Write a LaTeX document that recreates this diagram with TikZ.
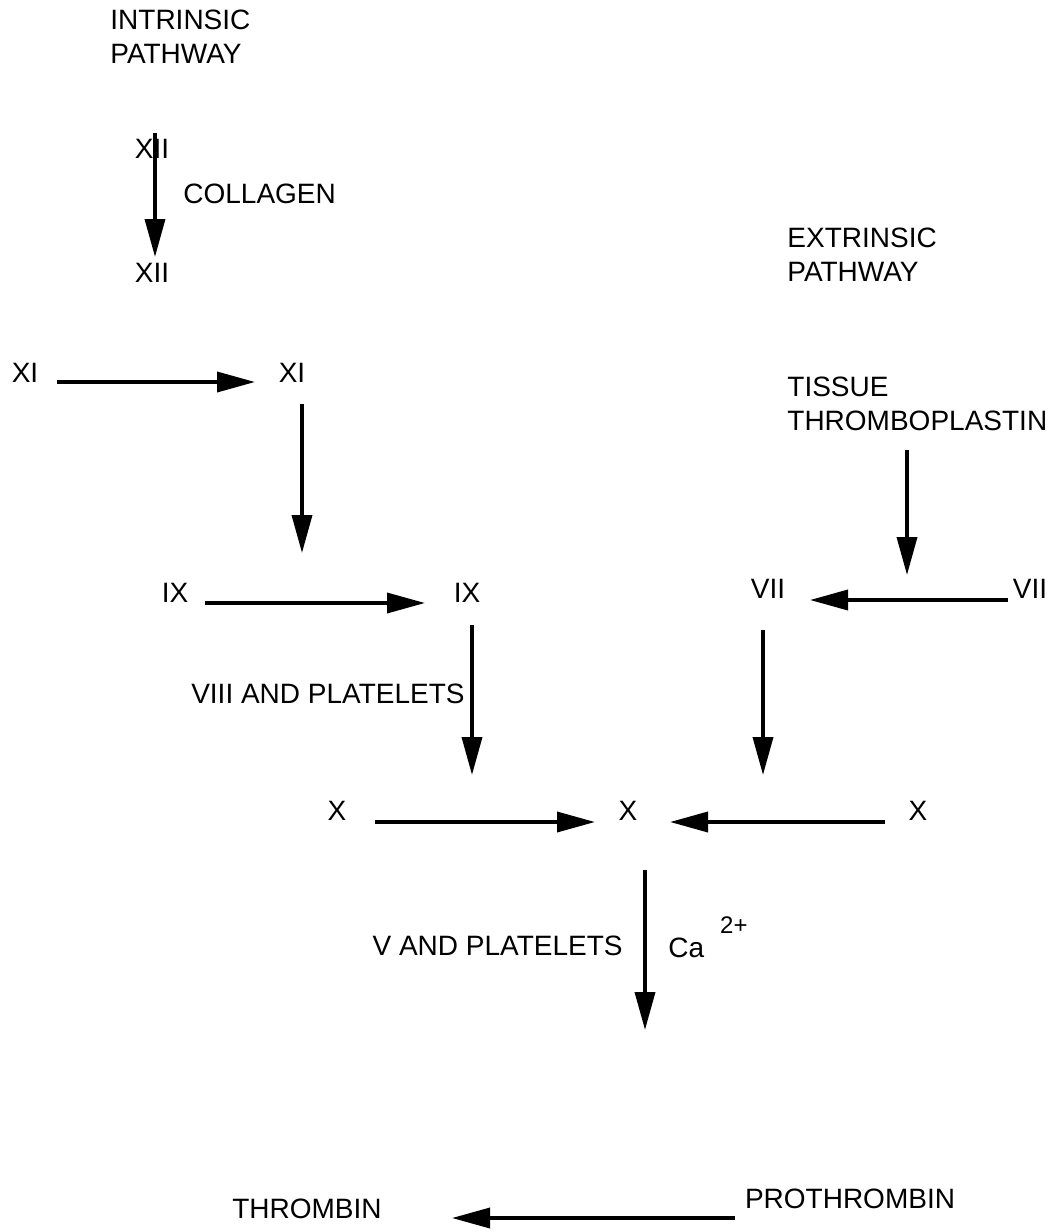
\documentclass[tikz,border=0pt]{standalone}
\usepackage{fontspec}
\setmainfont{Liberation Sans}
\usetikzlibrary{arrows.meta,calc}
\begin{document}
\begin{tikzpicture}[x=0.5pt, y=-0.5pt,
    lbl/.style={inner sep=0pt, font=\fontsize{14}{17}\selectfont},
    arr/.style={line width=1.8pt, -{Triangle[length=19pt,width=10pt]}}]
  \useasboundingbox (0,0) rectangle (1057,1232);

  % Pathway headings
  \node[lbl, anchor=north west, align=left] (intr) at (110,10) {INTRINSIC\\PATHWAY};
  \node[lbl, anchor=north west, align=left] (extr) at (787,228) {EXTRINSIC\\PATHWAY};
  \node[lbl, anchor=north west, align=left] (tissue) at (787,377) {TISSUE\\THROMBOPLASTIN};

  % Factors
  \node[lbl, anchor=base] (xiiTop) at (152,158) {XII};
  \node[lbl, anchor=base] (xiiBot) at (152,282) {XII};
  \node[lbl, anchor=base west] (collagen) at (183,203) {COLLAGEN};
  \node[lbl, anchor=base] (xiIn) at (25,382) {XI};
  \node[lbl, anchor=base] (xiOut) at (292,382) {XI};
  \node[lbl, anchor=base] (ixIn) at (175,602) {IX};
  \node[lbl, anchor=base] (ixOut) at (467,602) {IX};
  \node[lbl, anchor=base] (viiOut) at (768,598) {VII};
  \node[lbl, anchor=base] (viiIn) at (1030,598) {VII};
  \node[lbl, anchor=base east] (viii) at (465,703) {VIII AND PLATELETS};
  \node[lbl, anchor=base] (xInL) at (337,820) {X};
  \node[lbl, anchor=base] (xOut) at (628,820) {X};
  \node[lbl, anchor=base] (xInR) at (918,820) {X};
  \node[lbl, anchor=base east] (vplat) at (623,955) {V AND PLATELETS};
  \node[lbl, anchor=base west] (ca) at (668,957)
    {Ca\hspace{8pt}\raisebox{12pt}{\fontsize{12}{14}\selectfont 2+}};
  \node[lbl, anchor=base] (thrombin) at (307,1218) {THROMBIN};
  \node[lbl, anchor=base] (prothr) at (850,1208) {PROTHROMBIN};

  % Free ends of the activating arrows
  \coordinate (ixJoin) at (302,553);
  \coordinate (viiJoin) at (907,575);
  \coordinate (xJoinL) at (472,775);
  \coordinate (xJoinR) at (763,775);
  \coordinate (thrJoin) at (645,1030);

  % Intrinsic cascade
  \draw[arr] ($(xiiTop.base)+(3,-25)$) -- ($(xiiBot.base)+(3,-25)$);
  \draw[arr] ($(xiIn.base)+(32,0)$) -- ($(xiOut.base)+(-37,0)$);
  \draw[arr] ($(xiOut.base)+(10,22)$) -- (ixJoin);
  \draw[arr] ($(ixIn.base)+(30,1)$) -- ($(ixOut.base)+(-42,1)$);
  \draw[arr] ($(ixOut.base)+(5,23)$) -- (xJoinL);

  % Extrinsic cascade
  \draw[arr] ($(tissue.south west)+(120,18)$) -- (viiJoin);
  \draw[arr] ($(viiIn.base)+(-22,2)$) -- ($(viiOut.base)+(42,2)$);
  \draw[arr] ($(viiOut.base)+(-5,32)$) -- (xJoinR);

  % Common pathway
  \draw[arr] ($(xInL.base)+(38,2)$) -- ($(xOut.base)+(-33,2)$);
  \draw[arr] ($(xInR.base)+(-33,2)$) -- ($(xOut.base)+(42,2)$);
  \draw[arr] ($(xOut.base)+(17,50)$) -- (thrJoin);
  \draw[arr] ($(prothr.base)+(-115,10)$) -- ($(thrombin.base)+(145,0)$);

\end{tikzpicture}
\end{document}
